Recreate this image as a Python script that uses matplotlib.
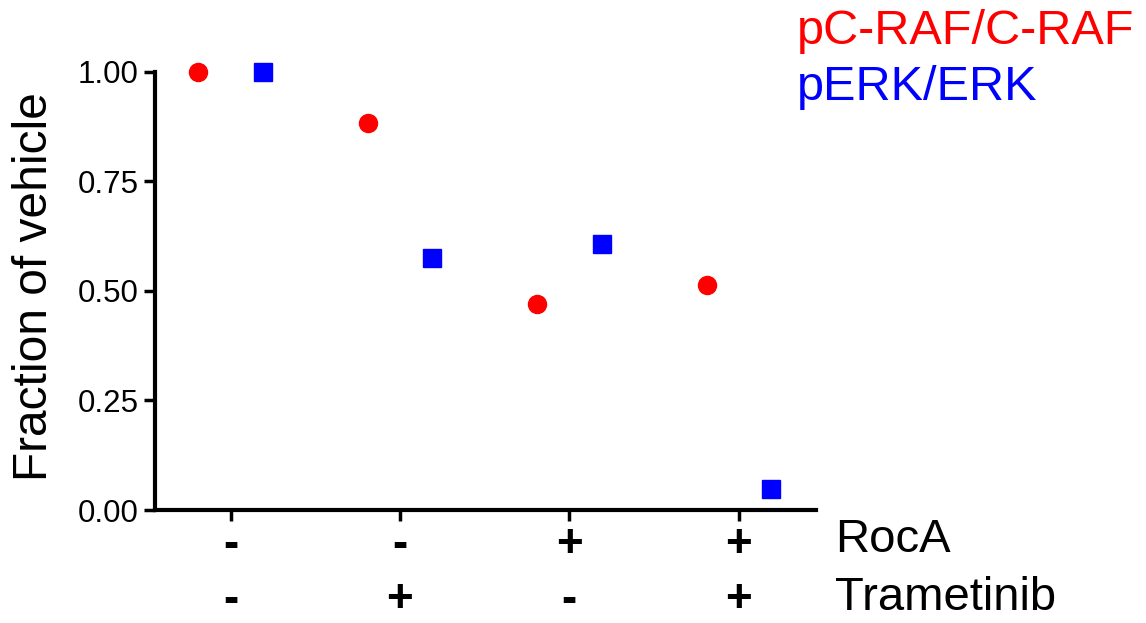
import matplotlib
matplotlib.use("Agg")
import matplotlib.pyplot as plt
import matplotlib.transforms as mtransforms

plt.rcParams['font.family'] = ['Liberation Sans', 'DejaVu Sans']

conditions = [0, 1, 2, 3]
roca_labels = ['-', '-', '+', '+']
tram_labels = ['-', '+', '-', '+']
craf_values = [1.00, 0.884, 0.471, 0.513]
erk_values = [1.00, 0.576, 0.606, 0.048]
series_names = ['pC-RAF/C-RAF', 'pERK/ERK']
series_colors = ['#ff0000', '#0000ff']
y_ticks = [0.00, 0.25, 0.50, 0.75, 1.00]

fig = plt.figure(figsize=(11.46, 6.23), dpi=100)
ax = fig.add_axes([155/1146, 1-510/623, (816-155)/1146, (510-71.7)/623])

off = 0.19
ax.plot([c - off for c in conditions], craf_values, 'o', color=series_colors[0],
        markersize=13, clip_on=False, zorder=3)
ax.plot([c + off for c in conditions], erk_values, 's', color=series_colors[1],
        markersize=12.5, clip_on=False, zorder=3)

ax.set_xlim(-0.446, 3.456)
ax.set_ylim(0, 1.0)
ax.set_yticks(y_ticks)
ax.set_yticklabels([f'{v:.2f}' for v in y_ticks], fontsize=22.5)
ax.set_xticks(conditions)
ax.set_xticklabels([])
for s in ['top', 'right']:
    ax.spines[s].set_visible(False)
for s in ['left', 'bottom']:
    ax.spines[s].set_linewidth(3)
ax.tick_params(axis='both', width=2.5, length=8, color='black')
ax.tick_params(axis='y', pad=4)

trans = mtransforms.blended_transform_factory(ax.transData, fig.transFigure)
for c, r, t in zip(conditions, roca_labels, tram_labels):
    ax.text(c, 1-545/623, r, transform=trans, ha='center', va='center',
            fontsize=33, fontweight='bold')
    ax.text(c, 1-600/623, t, transform=trans, ha='center', va='center',
            fontsize=33, fontweight='bold')

fig.text(835/1146, 1-540/623, 'RocA', ha='left', va='center', fontsize=34)
fig.text(835/1146, 1-598/623, 'Trametinib', ha='left', va='center', fontsize=34)

fig.text(35/1146, 1-287/623, 'Fraction of vehicle', rotation=90, ha='center',
         va='center', fontsize=34.5)

fig.text(797/1146, 1-32/623, series_names[0], color=series_colors[0],
         ha='left', va='center', fontsize=35)
fig.text(797/1146, 1-88/623, series_names[1], color=series_colors[1],
         ha='left', va='center', fontsize=35)

fig.savefig('out.png', dpi=100)
